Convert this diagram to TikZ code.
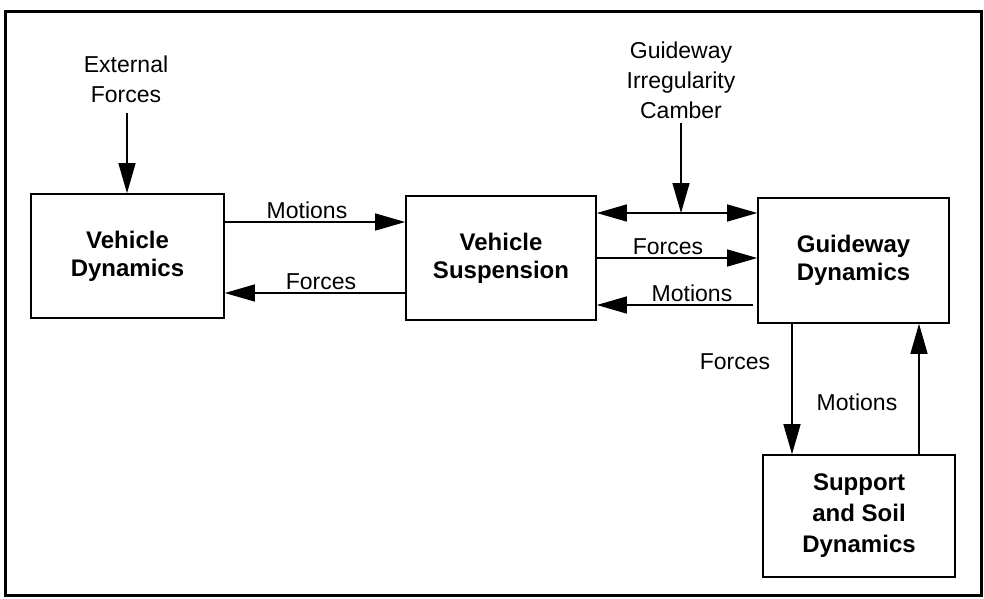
\documentclass[tikz,border=0pt]{standalone}
\usepackage{fontspec}
\setmainfont{Liberation Sans}
\usetikzlibrary{arrows.meta}
\begin{document}
\begin{tikzpicture}[x=1pt,y=-1pt,
  blk/.style={draw,line width=1.6pt,inner sep=0pt,align=center,font=\fontsize{24}{28}\selectfont\bfseries},
  lbl/.style={inner sep=0pt,align=center,font=\fontsize{23}{26}\selectfont},
  arr/.style={line width=1.3pt,-{Triangle[length=30pt,width=17pt]}},
  darr/.style={line width=1.3pt,{Triangle[length=30pt,width=17pt]}-{Triangle[length=30pt,width=17pt]}}]
\useasboundingbox (0,0) rectangle (984,598);
\draw[line width=3pt] (5,11) rectangle (981,595);
% blocks
\node[blk,minimum width=193pt,minimum height=124pt] (vd) at (127.5,256) {Vehicle\\Dynamics};
\node[blk,minimum width=190pt,minimum height=124pt] (vs) at (501,258) {Vehicle\\Suspension};
\node[blk,minimum width=191pt,minimum height=125pt] (gd) at (853.5,260.5) {Guideway\\Dynamics};
\node[blk,minimum width=192pt,minimum height=122pt,font=\fontsize{24}{31}\selectfont\bfseries] (ss) at (859,516) {Support\\and Soil\\Dynamics};
% external inputs
\node[lbl,font=\fontsize{23}{30}\selectfont] (ext) at (126,79) {External\\Forces};
\coordinate (extend) at (127,113);
\draw[arr] (extend) -- (vd.north -| extend);
\node[lbl,font=\fontsize{23}{30}\selectfont] (gw) at (681,80) {Guideway\\Irregularity\\Camber};
\coordinate (gwend) at (681,123);
\coordinate (gwhit) at (681,213);
\draw[darr] (vs.east |- gwhit) -- (gd.west |- gwhit);
\draw[arr] (gwend) -- (gwhit);
% VD <-> VS
\draw[arr] (vd.east |- 0,222) -- node[lbl,above=3pt,xshift=-8pt] (m1) {Motions} (vs.west |- 0,222);
\draw[arr] (vs.west |- 0,293) -- node[lbl,above=3pt,xshift=6pt] (f1) {Forces} (vd.east |- 0,293);
% VS <-> GD
\draw[arr] (vs.east |- 0,258) -- node[lbl,above=3pt,xshift=-9pt] (f2) {Forces} (gd.west |- 0,258);
\draw[arr] ([xshift=-4pt]gd.west |- 0,305) -- node[lbl,above=3pt,xshift=17pt] (m2) {Motions} (vs.east |- 0,305);
% GD <-> SS
\draw[arr] (gd.south -| 792,0) -- (ss.north -| 792,0);
\draw[arr] (ss.north -| 919,0) -- (gd.south -| 919,0);
\node[lbl] (f3) at (735,362) {Forces};
\node[lbl] (m3) at (857,402) {Motions};
\end{tikzpicture}
\end{document}
